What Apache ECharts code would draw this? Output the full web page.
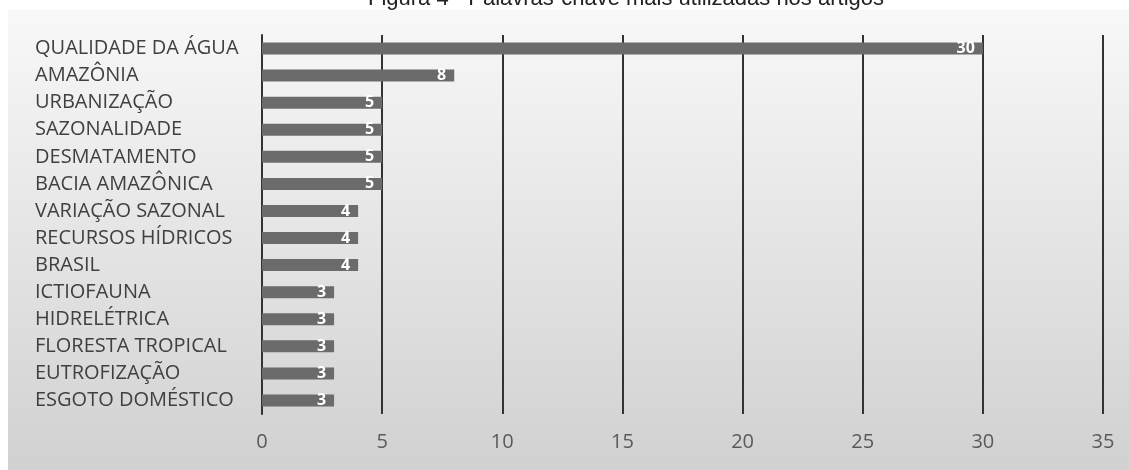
<!DOCTYPE html>
<html>
<head>
<meta charset="utf-8">
<script src="https://cdn.jsdelivr.net/npm/echarts@6/dist/echarts.min.js"></script>
<style>
  html, body { margin: 0; padding: 0; background: #ffffff; }
  #chart { width: 1129px; height: 470px; }
</style>
</head>
<body>
<div id="chart"></div>
<script>
// Keywords, listed top to bottom
const keywords = [
  'QUALIDADE DA ÁGUA', 'AMAZÔNIA', 'URBANIZAÇÃO', 'SAZONALIDADE', 'DESMATAMENTO',
  'BACIA AMAZÔNICA', 'VARIAÇÃO SAZONAL', 'RECURSOS HÍDRICOS', 'BRASIL', 'ICTIOFAUNA',
  'HIDRELÉTRICA', 'FLORESTA TROPICAL', 'EUTROFIZAÇÃO', 'ESGOTO DOMÉSTICO'
];
// Number of articles using each keyword
const counts = [30, 8, 5, 5, 5, 5, 4, 4, 4, 3, 3, 3, 3, 3];
const xTicks = [0, 5, 10, 15, 20, 25, 30, 35];
const figureTitle = 'Figura 4 - Palavras-chave mais utilizadas nos artigos';

const chart = echarts.init(document.getElementById('chart'));
chart.setOption({
  animation: false,
  backgroundColor: '#ffffff',
  graphic: [
    {
      type: 'rect',
      z: -10,
      shape: { x: 8, y: 10, width: 1121, height: 460 },
      style: {
        fill: new echarts.graphic.LinearGradient(0, 0, 0, 1, [
          { offset: 0, color: '#f8f8f8' },
          { offset: 1, color: '#d1d1d1' }
        ])
      }
    },
    {
      type: 'text',
      z: -5,
      style: {
        text: figureTitle,
        x: 626, y: -12,
        align: 'center', verticalAlign: 'top',
        fontFamily: 'Liberation Sans', fontSize: 22, fill: '#222222'
      }
    }
  ],
  grid: { left: 262, right: 26, top: 35, bottom: 56, containLabel: false },
  xAxis: {
    type: 'value',
    min: 0, max: 35, interval: 5,
    axisLine: { show: false },
    axisTick: { show: false },
    splitLine: { show: true, lineStyle: { color: '#333333', width: 2 } },
    axisLabel: {
      margin: 18,
      fontFamily: 'Open Sans', fontSize: 20, color: '#5a5a5a',
      formatter: v => xTicks.includes(v) ? String(v) : ''
    }
  },
  yAxis: {
    type: 'category',
    inverse: true,
    data: keywords,
    axisLine: { show: true, lineStyle: { color: '#333333', width: 2, type: [10, 4] } },
    axisTick: { show: false },
    axisLabel: {
      align: 'left',
      margin: 227,
      fontFamily: 'Open Sans', fontSize: 20, color: '#404040'
    }
  },
  series: [{
    type: 'bar',
    data: counts,
    barWidth: 12,
    itemStyle: { color: '#6b6b6b' },
    label: {
      show: true,
      position: 'insideRight',
      distance: 8,
      color: '#ffffff',
      fontFamily: 'Open Sans', fontSize: 16, fontWeight: 'bold'
    }
  }]
});
</script>
</body>
</html>
